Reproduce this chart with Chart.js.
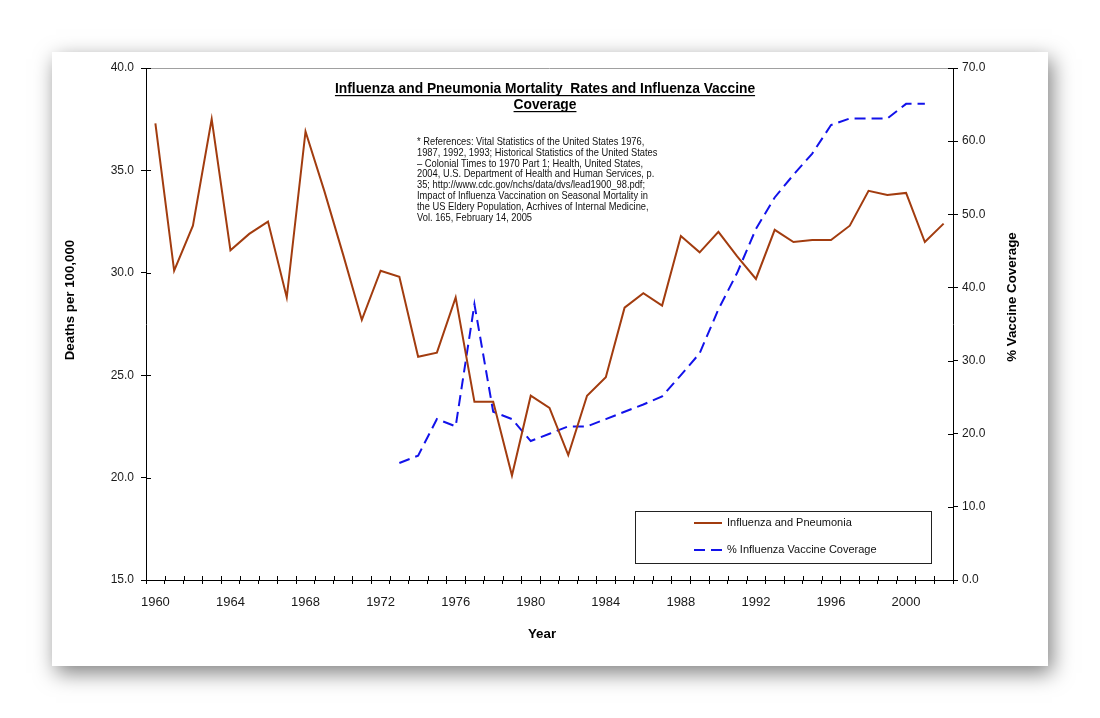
<!DOCTYPE html>
<html>
<head>
<meta charset="utf-8">
<script src="https://cdn.jsdelivr.net/npm/chart.js@4/dist/chart.umd.min.js"></script>
<style>
  body { margin: 0; background: #fff; width: 1100px; height: 718px; overflow: hidden; }
  #card { position: absolute; left: 52px; top: 52px; width: 996px; height: 614px; background: #fff;
          box-shadow: 4px 7px 20px rgba(0,0,0,0.5); }
  #wrap { position: absolute; left: 0; top: 0; width: 1100px; height: 718px; }
</style>
</head>
<body>
<div id="card"></div>
<div id="wrap"><canvas id="mortalityChart" width="1100" height="718"></canvas></div>
<script>
// Years on the category axis
const years = [];
for (let y = 1960; y <= 2002; y++) years.push(String(y));

// Influenza and pneumonia deaths per 100,000
const deathRates = [
    37.3, 30.1, 32.3, 37.5, 31.1, 31.9, 32.5, 28.8, 36.9, 34.0,
    30.9, 27.7, 30.1, 29.8, 25.9, 26.1, 28.8, 23.7, 23.7, 20.1,
    24.0, 23.4, 21.1, 24.0, 24.9, 28.3, 29.0, 28.4, 31.8, 31.0,
    32.0, 30.8, 29.7, 32.1, 31.5, 31.6, 31.6, 32.3, 34.0, 33.8,
    33.9, 31.5, 32.4
];

// % influenza vaccine coverage, starts 1973, ends 2001
const vaccineCoverage = [
    null, null, null, null, null, null, null, null, null, null,
    null, null, null, 16.0, 17.0, 22.0, 21.0, 37.7, 23.0, 22.0,
    19.0, 20.0, 21.0, 21.0, 22.0, 23.0, 24.0, 25.1, 28.0, 31.0,
    37.0, 42.0, 48.0, 52.3, 55.4, 58.3, 62.2, 63.1, 63.1, 63.1,
    65.1, 65.1, null
];

const chartTitle = ['Influenza and Pneumonia Mortality  Rates and Influenza Vaccine', 'Coverage'];
const referenceLines = [
    '* References: Vital Statistics of the United States 1976,',
    '1987, 1992, 1993; Historical Statistics of the United States',
    '\u2013 Colonial Times to 1970 Part 1; Health, United States,',
    '2004, U.S. Department of Health and Human Services, p.',
    '35; http://www.cdc.gov/nchs/data/dvs/lead1900_98.pdf;',
    'Impact of Influenza Vaccination on Seasonal Mortality in',
    'the US Eldery Population, Acrhives of Internal Medicine,',
    'Vol. 165, February 14, 2005'
];

const FONT = '"Liberation Sans", Arial, sans-serif';
const RED = '#a23c0f';
const BLUE = '#1212ea';

// Draws the Excel-like extras: title, notes, axis titles, legend, crossing ticks
const excelDecor = {
    id: 'excelDecor',
    afterDraw(chart) {
        const ctx = chart.ctx;
        const area = chart.chartArea;
        const xs = chart.scales.x, yl = chart.scales.y, yr = chart.scales.y2;
        ctx.save();

        // light top border of the plot area
        ctx.strokeStyle = '#a0a0a0';
        ctx.lineWidth = 1;
        ctx.beginPath();
        ctx.moveTo(area.left, area.top + 0.5);
        ctx.lineTo(area.right, area.top + 0.5);
        ctx.stroke();

        // inner halves of the tick marks
        ctx.strokeStyle = '#000';
        ctx.beginPath();
        yl.ticks.forEach(t => {
            const py = Math.round(yl.getPixelForValue(t.value)) + 0.5;
            ctx.moveTo(area.left, py); ctx.lineTo(area.left + 5, py);
        });
        yr.ticks.forEach(t => {
            const py = Math.round(yr.getPixelForValue(t.value)) + 0.5;
            ctx.moveTo(area.right, py); ctx.lineTo(area.right - 5, py);
        });
        const step = xs.getPixelForValue(1) - xs.getPixelForValue(0);
        for (let i = 0; i <= years.length; i++) {
            const px = Math.round(xs.getPixelForValue(i) - step / 2) + 0.5;
            ctx.moveTo(px, area.bottom); ctx.lineTo(px, area.bottom - 4);
        }
        ctx.stroke();

        // title, bold and underlined
        ctx.fillStyle = '#000';
        ctx.font = 'bold 13.8px ' + FONT;
        ctx.textAlign = 'center';
        ctx.textBaseline = 'alphabetic';
        const tx = 545;
        chartTitle.forEach((line, i) => {
            const by = 93 + i * 16;
            ctx.fillText(line, tx, by);
            const w = ctx.measureText(line).width;
            ctx.fillRect(tx - w / 2, by + 2, w, 1.2);
        });

        // references note (narrow, like the original)
        ctx.save();
        ctx.translate(417, 0);
        ctx.scale(0.88, 1);
        ctx.font = '10.6px ' + FONT;
        ctx.textAlign = 'left';
        ctx.textBaseline = 'middle';
        ctx.fillStyle = '#111';
        referenceLines.forEach((line, i) => ctx.fillText(line, 0, 142 + i * 10.85));
        ctx.restore();

        // axis titles
        ctx.fillStyle = '#000';
        ctx.font = 'bold 13.3px ' + FONT;
        ctx.textAlign = 'center';
        ctx.textBaseline = 'middle';
        ctx.fillText('Year', 542, 634);
        ctx.save();
        ctx.translate(70, 300); ctx.rotate(-Math.PI / 2);
        ctx.fillText('Deaths per 100,000', 0, 0);
        ctx.restore();
        ctx.save();
        ctx.translate(1012, 297); ctx.rotate(-Math.PI / 2);
        ctx.fillText('% Vaccine Coverage', 0, 0);
        ctx.restore();

        // legend box
        ctx.strokeStyle = '#222';
        ctx.lineWidth = 1;
        ctx.strokeRect(635.5, 511.5, 296, 52);
        ctx.font = '11px ' + FONT;
        ctx.textAlign = 'left';
        chart.data.datasets.forEach((ds, i) => {
            const ly = 523 + i * 27;
            ctx.strokeStyle = ds.borderColor;
            ctx.lineWidth = ds.borderWidth;
            ctx.setLineDash(ds.borderDash || []);
            ctx.beginPath();
            ctx.moveTo(694, ly); ctx.lineTo(722, ly);
            ctx.stroke();
            ctx.setLineDash([]);
            ctx.fillStyle = '#111';
            ctx.fillText(ds.label, 727, ly);
        });
        ctx.restore();
    }
};

const ctx = document.getElementById('mortalityChart').getContext('2d');
const mortalityChart = new Chart(ctx, {
    type: 'line',
    data: {
        labels: years,
        datasets: [
            {
                label: 'Influenza and Pneumonia',
                data: deathRates,
                yAxisID: 'y',
                borderColor: RED,
                borderWidth: 2,
                pointRadius: 0,
                tension: 0,
                fill: false
            },
            {
                label: '% Influenza Vaccine Coverage',
                data: vaccineCoverage,
                yAxisID: 'y2',
                borderColor: BLUE,
                borderWidth: 2,
                borderDash: [11, 6],
                pointRadius: 0,
                tension: 0,
                fill: false,
                spanGaps: false
            }
        ]
    },
    options: {
        responsive: false,
        animation: false,
        devicePixelRatio: 1,
        layout: { padding: { top: 68, left: 0, right: 0, bottom: 0 } },
        plugins: {
            legend: { display: false },
            tooltip: { enabled: false },
            title: { display: false }
        },
        scales: {
            x: {
                type: 'category',
                offset: true,
                grid: { display: true, offset: true, drawOnChartArea: false, tickLength: 4, color: '#000' },
                border: { color: '#000', width: 1 },
                ticks: {
                    autoSkip: false,
                    maxRotation: 0,
                    padding: 11,
                    color: '#1a1a1a',
                    font: { family: FONT, size: 13 },
                    callback: function (val, idx) { return idx % 4 === 0 ? this.getLabelForValue(val) : ''; }
                },
                afterFit: scale => { scale.height = 138; }
            },
            y: {
                position: 'left',
                min: 15, max: 40,
                grid: { display: true, drawOnChartArea: false, tickLength: 5, color: '#000' },
                border: { color: '#000', width: 1 },
                ticks: {
                    stepSize: 5,
                    padding: 7,
                    color: '#1a1a1a',
                    font: { family: FONT, size: 12 },
                    callback: v => v.toFixed(1)
                },
                afterFit: scale => { scale.width = 146; }
            },
            y2: {
                position: 'right',
                min: 0, max: 70,
                grid: { display: true, drawOnChartArea: false, tickLength: 5, color: '#000' },
                border: { color: '#000', width: 1 },
                ticks: {
                    stepSize: 10,
                    padding: 4,
                    color: '#1a1a1a',
                    font: { family: FONT, size: 12 },
                    callback: v => v.toFixed(1)
                },
                afterFit: scale => { scale.width = 147; }
            }
        }
    },
    plugins: [excelDecor]
});
</script>
</body>
</html>
